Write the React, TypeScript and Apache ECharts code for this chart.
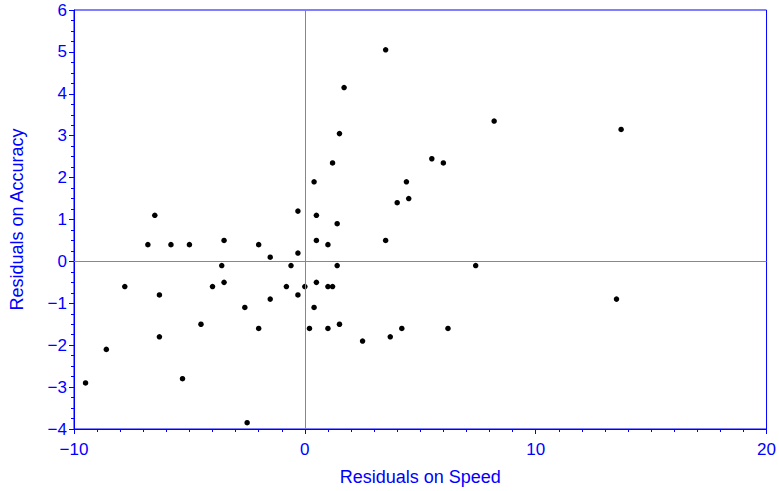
import React, { useEffect, useRef } from "react";
import * as echarts from "echarts";

const speedResiduals: number[] = [
  0.4, -6.5, -0.3, 0.5, -6.8, -5.8, -5.0, -3.5, -2.0, 0.5,
  3.5, 1.7, 8.2, 13.7, 1.5, 1.2, 5.5, 6.0, 4.4, 4.5,
  4.0, 1.4, 1.0, 3.5, -0.3, -1.5, -3.6, -0.6, -7.8, -3.5,
  -4.0, -0.8, 0.0, 0.5, -6.3, -1.5, -0.3, -2.6, 0.4, -4.5,
  -2.0, 0.2, -6.3, -8.6, -5.3, -9.5, -2.5, 1.4, 7.4, 1.0,
  1.2, 13.5, 1.0, 1.5, 4.2, 6.2, 2.5, 3.7,
];
const accuracyResiduals: number[] = [
  1.9, 1.1, 1.2, 1.1, 0.4, 0.4, 0.4, 0.5, 0.4, 0.5,
  5.05, 4.15, 3.35, 3.15, 3.05, 2.35, 2.45, 2.35, 1.9, 1.5,
  1.4, 0.9, 0.4, 0.5, 0.2, 0.1, -0.1, -0.1, -0.6, -0.5,
  -0.6, -0.6, -0.6, -0.5, -0.8, -0.9, -0.8, -1.1, -1.1, -1.5,
  -1.6, -1.6, -1.8, -2.1, -2.8, -2.9, -3.85, -0.1, -0.1, -0.6,
  -0.6, -0.9, -1.6, -1.5, -1.6, -1.6, -1.9, -1.8,
];

const xTitle = "Residuals on Speed";
const yTitle = "Residuals on Accuracy";
const xRange = [-10, 20];
const yRange = [-4, 6];
const referenceX = 0;
const referenceY = 0;

const BLUE = "#0000ff";
const REF = "#7777ff";
const FONT = "'Liberation Sans', Arial, sans-serif";

const fmt = (v: number) => (v < 0 ? "\u2212" + Math.abs(v) : String(v));

export default function App() {
  const ref = useRef<HTMLDivElement>(null);
  useEffect(() => {
    if (!ref.current) return;
    const chart = echarts.init(ref.current, undefined, { renderer: "svg" });
    const points = speedResiduals.map((x, i) => [x, accuracyResiduals[i]]);
    const refLine = { color: REF, width: 1, type: "solid", opacity: 1 };
    chart.setOption({
      animation: false,
      backgroundColor: "#ffffff",
      grid: {
        left: 74,
        right: 10.5,
        top: 10,
        bottom: 57,
        show: true,
        borderColor: BLUE,
        borderWidth: 1,
        backgroundColor: "transparent",
      },
      xAxis: {
        type: "value",
        min: xRange[0],
        max: xRange[1],
        interval: 10,
        name: xTitle,
        nameLocation: "middle",
        nameGap: 39,
        nameTextStyle: { color: BLUE, fontSize: 18, fontFamily: FONT },
        axisLine: { show: true, onZero: false, lineStyle: { color: BLUE, width: 1 } },
        axisTick: { show: true, length: 5, lineStyle: { color: BLUE } },
        minorTick: { show: true, splitNumber: 10, length: 3, lineStyle: { color: BLUE } },
        axisLabel: { color: BLUE, fontSize: 17, fontFamily: FONT, margin: 12, formatter: fmt },
        splitLine: { show: false },
      },
      yAxis: {
        type: "value",
        min: yRange[0],
        max: yRange[1],
        interval: 1,
        name: yTitle,
        nameLocation: "middle",
        nameGap: 48,
        nameTextStyle: { color: BLUE, fontSize: 18, fontFamily: FONT },
        axisLine: { show: true, onZero: false, lineStyle: { color: BLUE, width: 1 } },
        axisTick: { show: true, length: 5, lineStyle: { color: BLUE } },
        minorTick: { show: true, splitNumber: 4, length: 3, lineStyle: { color: BLUE } },
        axisLabel: { color: BLUE, fontSize: 17, fontFamily: FONT, margin: 7, formatter: fmt },
        splitLine: { show: false },
      },
      series: [
        {
          type: "scatter",
          name: "reference",
          data: [],
          itemStyle: { color: REF },
          z: 1,
          markLine: {
            silent: true,
            symbol: "none",
            label: { show: false },
            lineStyle: refLine,
            data: [{ xAxis: referenceX }, { yAxis: referenceY }],
          },
        },
        {
          type: "scatter",
          data: points,
          symbol: "circle",
          symbolSize: 5.5,
          itemStyle: { color: "#000000", opacity: 1 },
          emphasis: { disabled: true },
          z: 3,
        },
      ],
    });
    return () => chart.dispose();
  }, []);
  return (
    <div
      ref={ref}
      style={{ position: "fixed", left: 0, top: 0, width: 779, height: 491 }}
    />
  );
}
